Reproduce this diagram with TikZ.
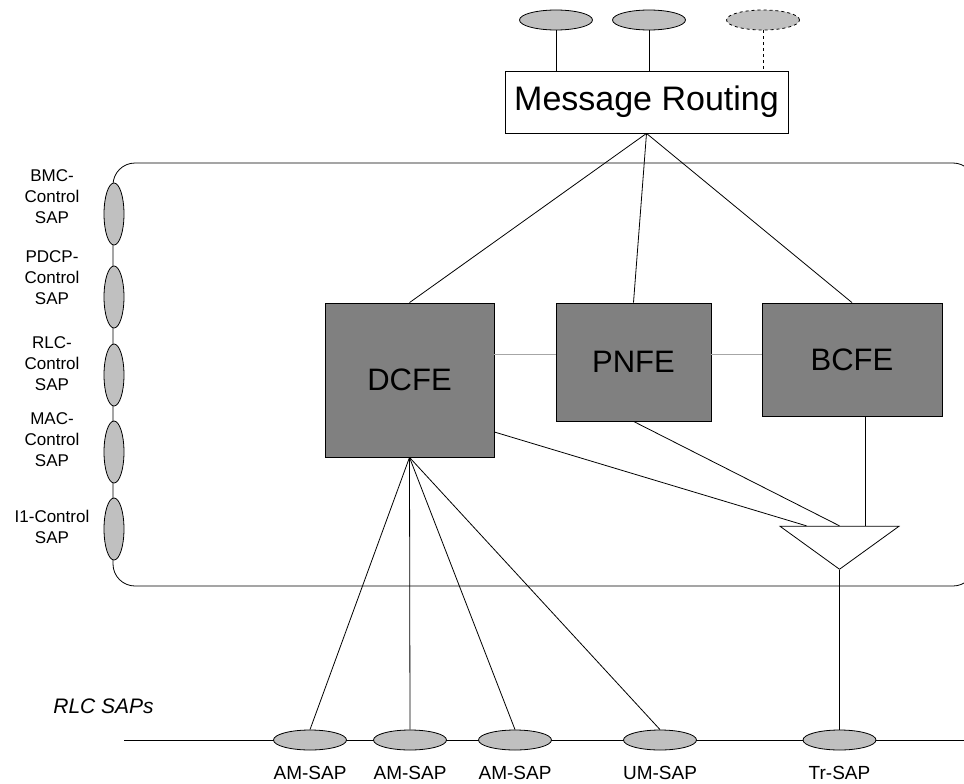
\documentclass[tikz,border=0pt]{standalone}
\usepackage{fontspec}
\setmainfont{Liberation Sans}
\usetikzlibrary{shapes.geometric}

\definecolor{feGray}{HTML}{808080}
\definecolor{sapGray}{HTML}{C0C0C0}
\tikzset{
  fe/.style={draw, fill=feGray, inner sep=0pt, font=\fontsize{31}{36}\selectfont},
  sap/.style={draw, ellipse, fill=sapGray, inner sep=0pt, minimum width=73pt, minimum height=20pt},
  ctlsap/.style={draw, ellipse, fill=sapGray, inner sep=0pt, minimum width=20pt, minimum height=62pt},
  ctllabel/.style={align=center, font=\fontsize{17}{21}\selectfont},
  saplabel/.style={font=\fontsize{19}{22}\selectfont},
  peer/.style={draw=gray!70, line width=0.8pt}
}

\begin{document}
\begin{tikzpicture}[x=1pt, y=-1pt, line width=0.8pt]
  \useasboundingbox (0,0) rectangle (964,784);
  \clip (0,0) rectangle (964,784);

  % RRC container
  \draw[rounded corners=22pt] (113,163) rectangle (975,586);

  % upper part
  \node[draw, inner sep=0pt, minimum width=283pt, minimum height=62pt,
        font=\fontsize{34}{40}\selectfont] (mr) at (646.5,102) {Message Routing};
  \node[sap] (top1) at (556,20) {};
  \node[sap] (top2) at (649,20) {};
  \node[sap, dashed] (top3) at (763,20) {};
  \draw (top1.south) -- (top1.south |- mr.north);
  \draw (top2.south) -- (top2.south |- mr.north);
  \draw[dashed] (top3.south) -- (top3.south |- mr.north);

  % functional entities
  \node[fe, minimum width=169pt, minimum height=154pt] (dcfe) at (409.5,380) {DCFE};
  \node[fe, minimum width=155pt, minimum height=118pt] (pnfe) at (633.5,362) {PNFE};
  \node[fe, minimum width=180pt, minimum height=113pt] (bcfe) at (852,359.5) {BCFE};
  \node[draw, isosceles triangle, isosceles triangle stretches, shape border rotate=-90,
        inner sep=0pt, minimum width=119pt, minimum height=43pt] (mux) at (839.5,545.5) {};

  \draw (mr.south) -- (dcfe.north);
  \draw (mr.south) -- (pnfe.north);
  \draw (mr.south) -- (bcfe.north);
  \draw[peer] (dcfe.east |- 0,354) -- (pnfe.west |- 0,354);
  \draw[peer] (pnfe.east |- 0,354) -- (bcfe.west |- 0,354);
  \draw ([yshift=-52pt]dcfe.east) -- ([xshift=-33pt]mux.north);
  \draw (pnfe.south) -- (mux.north);
  \draw ([xshift=13pt]bcfe.south) -- ([xshift=13pt]bcfe.south |- mux.north);

  % control SAPs
  \node[ctlsap] (bmc) at (114,214) {};
  \node[ctlsap] (pdcp) at (114,297) {};
  \node[ctlsap] (rlc) at (114,375) {};
  \node[ctlsap] (mac) at (114,452) {};
  \node[ctlsap] (lone) at (114,529) {};
  \node[ctllabel] (bmcl) at (52,197) {BMC-\\Control\\SAP};
  \node[ctllabel] (pdcpl) at (52,278) {PDCP-\\Control\\SAP};
  \node[ctllabel] (rlcl) at (52,364) {RLC-\\Control\\SAP};
  \node[ctllabel] (macl) at (52,440) {MAC-\\Control\\SAP};
  \node[ctllabel] (lonel) at (52,527) {I1-Control\\SAP};

  % RLC SAPs
  \coordinate (lb) at (124,740);
  \coordinate (rb) at (975,740);
  \draw (lb) -- (rb);
  \node[font=\fontsize{21}{24}\selectfont\itshape, anchor=west, inner sep=0pt] (rlcsaps) at (53,706) {RLC SAPs};
  \node[sap] (am1) at (310,740) {};
  \node[sap] (am2) at (410,740) {};
  \node[sap] (am3) at (515,740) {};
  \node[sap] (um) at (660,740) {};
  \node[sap] (tr) at (839.5,740) {};
  \node[saplabel] at (310,773) {AM-SAP};
  \node[saplabel] at (410,773) {AM-SAP};
  \node[saplabel] at (515,773) {AM-SAP};
  \node[saplabel] at (660,773) {UM-SAP};
  \node[saplabel] at (839.5,773) {Tr-SAP};

  \draw (dcfe.south) -- (am1.north);
  \draw (dcfe.south) -- (am2.north);
  \draw (dcfe.south) -- (am3.north);
  \draw (dcfe.south) -- (um.north);
  \draw (mux.apex) -- (tr.north);
\end{tikzpicture}
\end{document}
